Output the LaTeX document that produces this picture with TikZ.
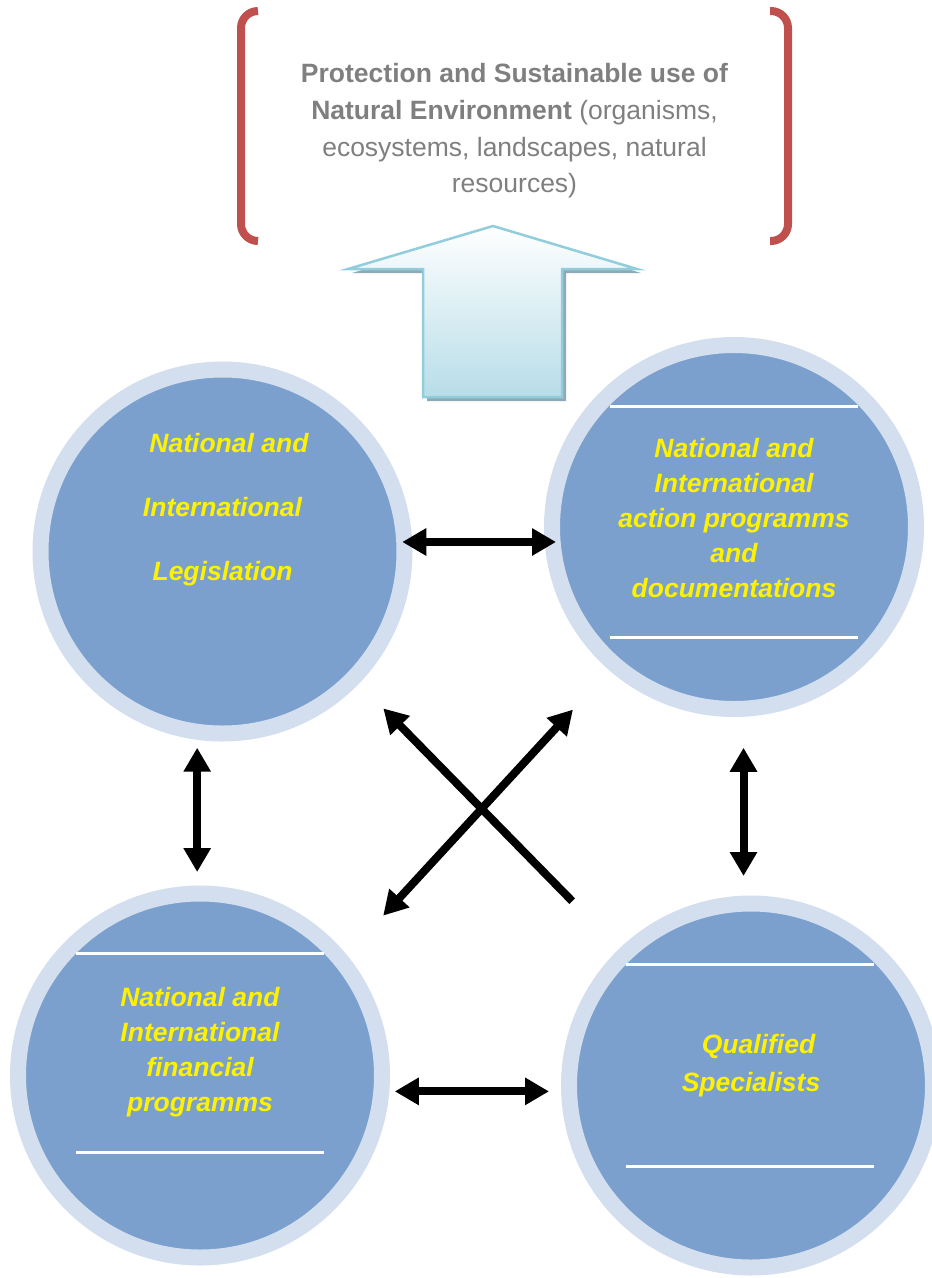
\documentclass[tikz,border=0pt]{standalone}
\usepackage{fontspec}
\setmainfont{Liberation Sans}
\usetikzlibrary{positioning,arrows.meta,shadows}

\definecolor{ringblue}{RGB}{211,223,238}
\definecolor{discblue}{RGB}{123,160,205}
\definecolor{bracketred}{RGB}{192,80,77}
\definecolor{textgray}{RGB}{127,127,127}
\definecolor{arrowedge}{RGB}{146,205,220}
\definecolor{arrowfill}{RGB}{183,221,232}
\definecolor{arrowshadow}{RGB}{143,170,180}

\begin{document}
\begin{tikzpicture}[x=1pt,y=-1pt,on grid,>={Triangle[length=24pt,width=26pt]},
    disc/.style={circle,draw=ringblue,line width=16pt,fill=discblue,
      inner sep=0pt,outer sep=0pt,minimum size=364pt},
    lbl/.style={text=yellow,align=center,font=\fontsize{26.5}{35}\selectfont\bfseries\itshape},
    link/.style={<->,line width=8pt},
    bar/.style={white,line width=3pt},
    bracket/.style={bracketred,line width=8pt,rounded corners=17pt}]
  \useasboundingbox (0,0) rectangle (932,1278);

  % goal on top
  \draw[bracket] (258,11) -- (241,11) -- (241,241) -- (258,241);
  \draw[bracket] (770,11) -- (788,11) -- (788,241) -- (770,241);
  \node[text=textgray,align=center,font=\fontsize{26.5}{36.7}\selectfont] (goal) at (514.5,131)
    {\textbf{Protection and Sustainable use of}\\\textbf{Natural Environment} (organisms,\\
     ecosystems, landscapes, natural\\resources)};
  \draw[arrowedge,line width=2.5pt,top color=white,bottom color=arrowfill,
    drop shadow={shadow xshift=4pt,shadow yshift=-4pt,fill=arrowshadow,opacity=1}]
    (493,226) -- (637,269) -- (562,269) -- (562,397) -- (423,397) -- (423,269) -- (348,269) -- cycle;

  % the four instruments
  \node[disc] (tl) at (222.5,551.5) {};
  \node[disc] (tr) at (734,527) {};
  \node[disc] (bl) at (200,1075.5) {};
  \node[disc] (br) at (751,1085.5) {};
  \draw[bar] (610,406) -- (858,406) (610,637) -- (858,637);
  \draw[bar] (76,953) -- (324,953) (76,1152) -- (324,1152);
  \draw[bar] (626,964) -- (874,964) (626,1166) -- (874,1166);

  \node[lbl,font=\fontsize{26.5}{64}\selectfont\bfseries\itshape] (tltext) [above=42pt of tl]
    {\hspace*{13pt}National and\\International\\Legislation};
  \node[lbl] (trtext) [above=9pt of tr]
    {National and\\International\\action programms\\and\\documentations};
  \node[lbl] (bltext) [above=23pt of bl]
    {National and\\International\\financial\\programms};
  \node[lbl,font=\fontsize{26.5}{37.5}\selectfont\bfseries\itshape] (brtext) [above=20pt of br]
    {\hspace*{15pt}Qualified\\Specialists};

  % links
  \draw[link,shorten <=-2pt,shorten >=-4pt] (tl.3) -- (tl.3 -| tr.west);
  \draw[link,shorten <=16pt,shorten >=21.5pt] (tl.262) -- (tl.262 |- bl.north);
  \draw[link,shorten <=39pt,shorten >=27.5pt] (tr.273) -- (tr.273 |- br.north);
  \draw[link,shorten <=13.5pt,shorten >=20pt] (bl.355) -- (bl.355 -| br.west);
  \draw[link,shorten <=61.6pt,shorten >=61.5pt] (bl.39) -- (tr.229);
  \draw[->,line width=8pt,shorten <=74.8pt,shorten >=42.7pt] (br.134) -- (tl.316);
\end{tikzpicture}
\end{document}
